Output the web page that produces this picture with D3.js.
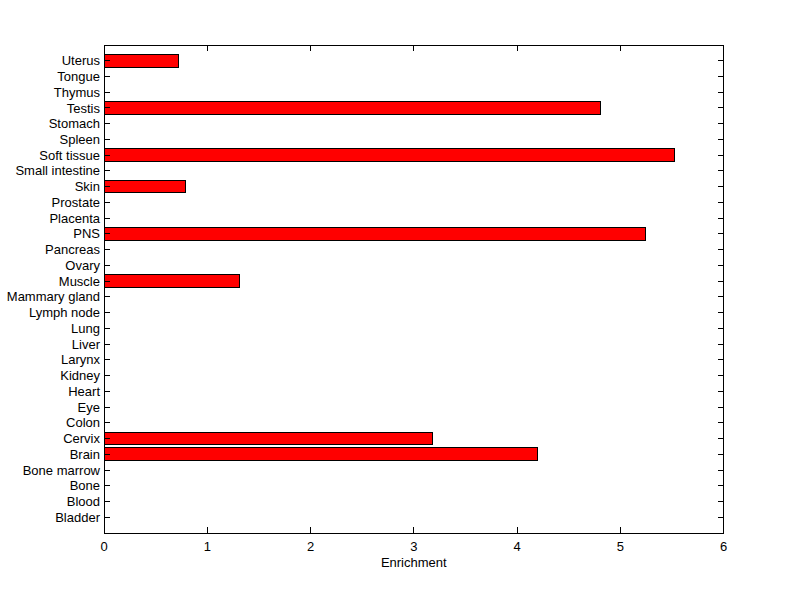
<!DOCTYPE html>
<html>
<head>
<meta charset="utf-8">
<script src="https://cdn.jsdelivr.net/npm/d3@7"></script>
<style>
  body { margin: 0; background: #fff; }
  text { font-family: "Liberation Sans", Arial, sans-serif; font-size: 13px; fill: #000; }
  line, rect { shape-rendering: crispEdges; }
</style>
</head>
<body>
<div id="chart"></div>
<script>
// tissues, bottom to top
var tissues = ["Bladder", "Blood", "Bone", "Bone marrow", "Brain", "Cervix", "Colon", "Eye",
  "Heart", "Kidney", "Larynx", "Liver", "Lung", "Lymph node", "Mammary gland", "Muscle",
  "Ovary", "Pancreas", "PNS", "Placenta", "Prostate", "Skin", "Small intestine",
  "Soft tissue", "Spleen", "Stomach", "Testis", "Thymus", "Tongue", "Uterus"];
var enrichment = [0, 0, 0, 0, 4.196, 3.18, 0, 0,
  0, 0, 0, 0, 0, 0, 0, 1.314,
  0, 0, 5.245, 0, 0, 0.79, 0,
  5.53, 0, 0, 4.81, 0, 0, 0.72];
var xTicks = [0, 1, 2, 3, 4, 5, 6];

var width = 800, height = 599;
var mLeft = 104, mRight = 723.5, mTop = 45, mBottom = 533;

var svg = d3.select("#chart").append("svg")
  .attr("width", width)
  .attr("height", height);

var x = d3.scaleLinear().domain([0, 6]).range([mLeft, mRight]);
var y = d3.scaleLinear().domain([0, tissues.length + 1]).range([mBottom, mTop]);
var barH = y(0) - y(0.8);

var data = tissues.map(function(t, i){ return {name: t, value: enrichment[i], pos: i + 1}; });

// bars
svg.append("g").selectAll("rect")
  .data(data.filter(function(d){ return d.value > 0; }))
  .enter().append("rect")
  .attr("x", x(0))
  .attr("y", function(d){ return y(d.pos) - barH / 2; })
  .attr("width", function(d){ return x(d.value) - x(0); })
  .attr("height", barH)
  .attr("fill", "#ff0000")
  .attr("stroke", "#000")
  .attr("stroke-width", 1);

// frame
svg.append("rect")
  .attr("x", mLeft).attr("y", mTop)
  .attr("width", mRight - mLeft).attr("height", mBottom - mTop)
  .attr("fill", "none").attr("stroke", "#000").attr("stroke-width", 1);

var tickLen = 6;

// x ticks, bottom and top, pointing inward
var xt = svg.append("g");
xTicks.forEach(function(v){
  xt.append("line").attr("x1", x(v)).attr("x2", x(v))
    .attr("y1", mBottom).attr("y2", mBottom - tickLen).attr("stroke", "#000");
  xt.append("line").attr("x1", x(v)).attr("x2", x(v))
    .attr("y1", mTop).attr("y2", mTop + tickLen).attr("stroke", "#000");
  xt.append("text").attr("x", x(v)).attr("y", 551)
    .attr("text-anchor", "middle").text(v);
});

// y ticks, left and right
var yt = svg.append("g");
data.forEach(function(d){
  yt.append("line").attr("x1", mLeft).attr("x2", mLeft + tickLen)
    .attr("y1", y(d.pos)).attr("y2", y(d.pos)).attr("stroke", "#000");
  yt.append("line").attr("x1", mRight).attr("x2", mRight - tickLen)
    .attr("y1", y(d.pos)).attr("y2", y(d.pos)).attr("stroke", "#000");
  yt.append("text").attr("x", 100).attr("y", y(d.pos))
    .attr("dy", "0.35em").attr("text-anchor", "end").text(d.name);
});

svg.append("text")
  .attr("x", (mLeft + mRight) / 2).attr("y", 567)
  .attr("text-anchor", "middle")
  .attr("font-size", "12px")
  .text("Enrichment");
</script>
</body>
</html>
